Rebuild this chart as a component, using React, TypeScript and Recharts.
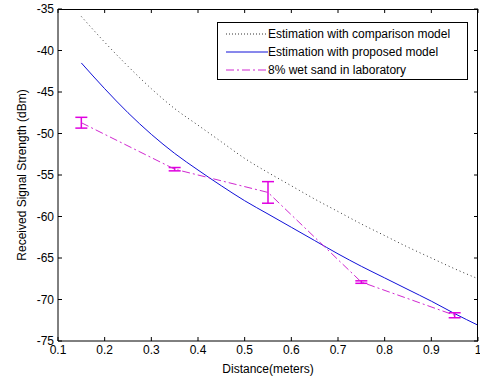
import { LineChart, Line, XAxis, YAxis, ErrorBar } from "recharts";

// distance (m) for each series
const comparisonX = [0.15, 0.2, 0.25, 0.3, 0.35, 0.4, 0.45, 0.5, 0.55, 0.6, 0.65, 0.7, 0.75, 0.8, 0.85, 0.9, 0.95, 1.0];
const comparisonY = [-35.9, -39.0, -41.9, -44.6, -47.0, -49.0, -51.0, -53.0, -54.7, -56.3, -57.9, -59.4, -60.9, -62.3, -63.7, -65.0, -66.3, -67.5];

const proposedX = [0.15, 0.2, 0.25, 0.3, 0.35, 0.4, 0.45, 0.5, 0.55, 0.6, 0.65, 0.7, 0.75, 0.8, 0.85, 0.9, 0.95, 1.0];
const proposedY = [-41.5, -44.6, -47.5, -50.1, -52.4, -54.4, -56.3, -58.1, -59.7, -61.3, -62.9, -64.5, -66.0, -67.4, -68.8, -70.2, -71.7, -73.1];

const labX = [0.15, 0.35, 0.55, 0.75, 0.95];
const labY = [-48.7, -54.3, -57.1, -67.9, -71.9];
const labErr = [0.65, 0.2, 1.3, 0.15, 0.3];

const xTicks = [0.1, 0.2, 0.3, 0.4, 0.5, 0.6, 0.7, 0.8, 0.9, 1];
const yTicks = [-75, -70, -65, -60, -55, -50, -45, -40, -35];

const seriesNames = [
    "Estimation with comparison model",
    "Estimation with proposed model",
    "8% wet sand in laboratory",
];

const comparisonData = comparisonX.map((x, i) => ({ x, y: comparisonY[i] }));
const proposedData = proposedX.map((x, i) => ({ x, y: proposedY[i] }));
const labData = labX.map((x, i) => ({ x, y: labY[i], err: labErr[i] }));

const W = 480;
const H = 381;
const PLOT_LEFT = 58;
const PLOT_TOP = 9;
const PLOT_RIGHT = 478;
const PLOT_BOTTOM = 341;
const TICK = 4;
const FONT = "'Liberation Sans', Arial, sans-serif";

const fmtX = (v: number) => (v === 1 ? "1" : v.toFixed(1));

const BottomTick = (props: any) => {
    const { x, payload } = props;
    return (
        <g>
            <line x1={x} x2={x} y1={PLOT_BOTTOM} y2={PLOT_BOTTOM - TICK} stroke="#000" />
            <line x1={x} x2={x} y1={PLOT_TOP} y2={PLOT_TOP + TICK} stroke="#000" />
            <text x={x} y={354} textAnchor="middle" fontSize={12} fontFamily={FONT} fill="#000">
                {fmtX(payload.value)}
            </text>
        </g>
    );
};

const LeftTick = (props: any) => {
    const { y, payload } = props;
    return (
        <g>
            <line x1={PLOT_LEFT} x2={PLOT_LEFT + TICK} y1={y} y2={y} stroke="#000" />
            <line x1={PLOT_RIGHT} x2={PLOT_RIGHT - TICK} y1={y} y2={y} stroke="#000" />
            <text x={54} y={y + 4} textAnchor="end" fontSize={12} fontFamily={FONT} fill="#000">
                {payload.value}
            </text>
        </g>
    );
};

const LegendBox = () => {
    const row = (i: number, sample: any) => (
        <div key={i} style={{ display: "flex", alignItems: "center", height: 18 }}>
            <svg width={44} height={10} style={{ marginRight: 0 }}>
                {sample}
            </svg>
            <span>{seriesNames[i]}</span>
        </div>
    );
    return (
        <div
            style={{
                position: "absolute",
                left: 217,
                top: 22,
                border: "1px solid #000",
                background: "#fff",
                width: 251,
                height: 58,
                boxSizing: "border-box",
                padding: "2px 0 0 6px",
                fontFamily: FONT,
                fontSize: 12,
                color: "#000",
                lineHeight: "18px",
            }}
        >
            {row(0, <line x1={2} x2={44} y1={5} y2={5} stroke="#333" strokeDasharray="1 2" />)}
            {row(1, <line x1={2} x2={44} y1={5} y2={5} stroke="#1010d8" />)}
            {row(2, <line x1={2} x2={44} y1={5} y2={5} stroke="#d028d0" strokeDasharray="8 3 2 3" />)}
        </div>
    );
};

export default function App() {
    return (
        <div style={{ position: "absolute", left: 0, top: 0, width: W, height: H, background: "#fff" }}>
            <LineChart
                width={W}
                height={H}
                margin={{ top: PLOT_TOP, right: W - PLOT_RIGHT, bottom: 0, left: 0 }}
            >
                <XAxis
                    dataKey="x"
                    type="number"
                    domain={[0.1, 1]}
                    ticks={xTicks}
                    allowDataOverflow
                    height={H - PLOT_BOTTOM}
                    axisLine={{ stroke: "#000" }}
                    tickLine={false}
                    tick={<BottomTick />}
                    interval={0}
                />
                <YAxis
                    type="number"
                    domain={[-75, -35]}
                    ticks={yTicks}
                    allowDataOverflow
                    width={PLOT_LEFT}
                    axisLine={{ stroke: "#000" }}
                    tickLine={false}
                    tick={<LeftTick />}
                    interval={0}
                />
                <Line
                    data={comparisonData}
                    dataKey="y"
                    type="monotone"
                    stroke="#333"
                    strokeWidth={1}
                    strokeDasharray="1 3"
                    dot={false}
                    activeDot={false}
                    isAnimationActive={false}
                />
                <Line
                    data={proposedData}
                    dataKey="y"
                    type="monotone"
                    stroke="#1010d8"
                    strokeWidth={1}
                    dot={false}
                    activeDot={false}
                    isAnimationActive={false}
                />
                <Line
                    data={labData}
                    dataKey="y"
                    type="linear"
                    stroke="#d028d0"
                    strokeWidth={1}
                    strokeDasharray="8 3 2 3"
                    dot={false}
                    activeDot={false}
                    isAnimationActive={false}
                >
                    <ErrorBar dataKey="err" width={6} stroke="#e000e0" strokeWidth={1.5} direction="y" />
                </Line>
            </LineChart>
            {/* box outline on top and right of the plot */}
            <div
                style={{
                    position: "absolute",
                    left: PLOT_LEFT,
                    top: PLOT_TOP,
                    width: PLOT_RIGHT - PLOT_LEFT,
                    height: PLOT_BOTTOM - PLOT_TOP,
                    borderTop: "1px solid #000",
                    borderRight: "1px solid #000",
                    boxSizing: "border-box",
                    pointerEvents: "none",
                    marginTop: -0.5,
                }}
            />
            <LegendBox />
            <div
                style={{
                    position: "absolute",
                    left: 268,
                    top: 362,
                    transform: "translateX(-50%)",
                    fontFamily: FONT,
                    fontSize: 12,
                    whiteSpace: "nowrap",
                }}
            >
                Distance(meters)
            </div>
            <div
                style={{
                    position: "absolute",
                    left: 22,
                    top: 175,
                    transform: "translate(-50%, -50%) rotate(-90deg)",
                    fontFamily: FONT,
                    fontSize: 12,
                    whiteSpace: "nowrap",
                }}
            >
                Received Signal Strength (dBm)
            </div>
        </div>
    );
}
